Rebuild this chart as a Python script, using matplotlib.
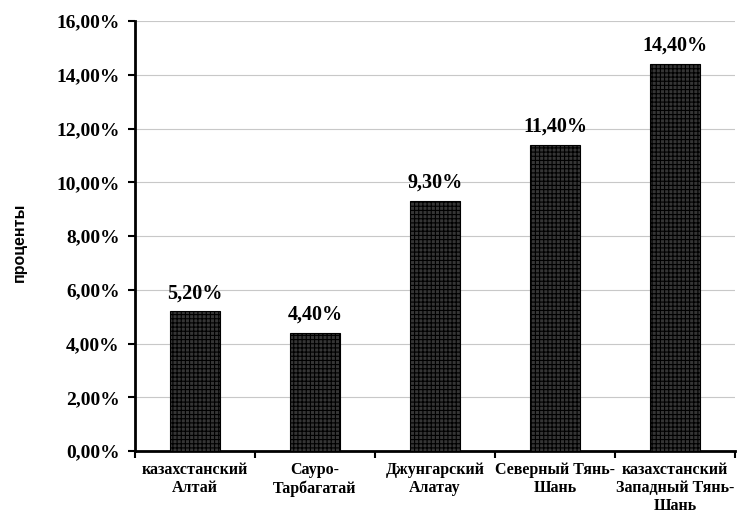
import matplotlib
matplotlib.use("Agg")
import matplotlib.pyplot as plt
from matplotlib.ticker import FuncFormatter, MultipleLocator

regions = ["казахстанский\nАлтай", "Сауро-\nТарбагатай", "Джунгарский\nАлатау",
           "Северный Тянь-\nШань", "казахстанский\nЗападный Тянь-\nШань"]
shares = [5.2, 4.4, 9.3, 11.4, 14.4]
value_labels = ["5,20%", "4,40%", "9,30%", "11,40%", "14,40%"]

plt.rcParams["hatch.color"] = "#b4b4b4"
plt.rcParams["hatch.linewidth"] = 0.8

fig = plt.figure(figsize=(7.38, 5.16), dpi=100)
ax = fig.add_axes([0.183, 0.126, 0.813, 0.833])

x = range(len(regions))
bars = ax.bar(x, shares, width=0.42, color="#353535", edgecolor="black",
              linewidth=0.8, hatch="++++", zorder=3)

serif = "Liberation Serif"
for b, lab in zip(bars, value_labels):
    ax.text(b.get_x() + b.get_width() / 2, b.get_height() + 0.3, lab,
            ha="center", va="bottom", fontsize=14.5, fontweight="bold",
            family=serif, zorder=4)

ax.set_xlim(-0.5, len(regions) - 0.5)
ax.set_ylim(0, 16)
ax.yaxis.set_major_locator(MultipleLocator(2))
ax.yaxis.set_major_formatter(FuncFormatter(lambda v, p: f"{v:.2f}%".replace(".", ",")))
ax.grid(axis="y", color="#c8c8c8", linewidth=0.8, zorder=0)

ax.set_xticks([i - 0.5 for i in range(len(regions) + 1)], minor=False)
ax.set_xticklabels([])
ax.set_xticks(list(x), minor=True)
ax.set_xticklabels(regions, minor=True, fontsize=11.5, fontweight="bold",
                   family=serif, linespacing=1.18)
ax.tick_params(axis="x", which="minor", length=0, pad=8)
ax.tick_params(axis="x", which="major", length=5, width=1.5, direction="out")
ax.tick_params(axis="y", length=5, width=1.5, direction="out", pad=6)
for t in ax.get_yticklabels():
    t.set_family(serif)
    t.set_fontweight("bold")
    t.set_fontsize(14)

for s in ("top", "right"):
    ax.spines[s].set_visible(False)
for s in ("left", "bottom"):
    ax.spines[s].set_linewidth(2)
    ax.spines[s].set_color("black")

fig.text(0.026, 0.53, "проценты", rotation=90, ha="center", va="center",
         fontsize=11.5, fontweight="bold", family="Liberation Sans")

fig.savefig("out.png", dpi=100)
